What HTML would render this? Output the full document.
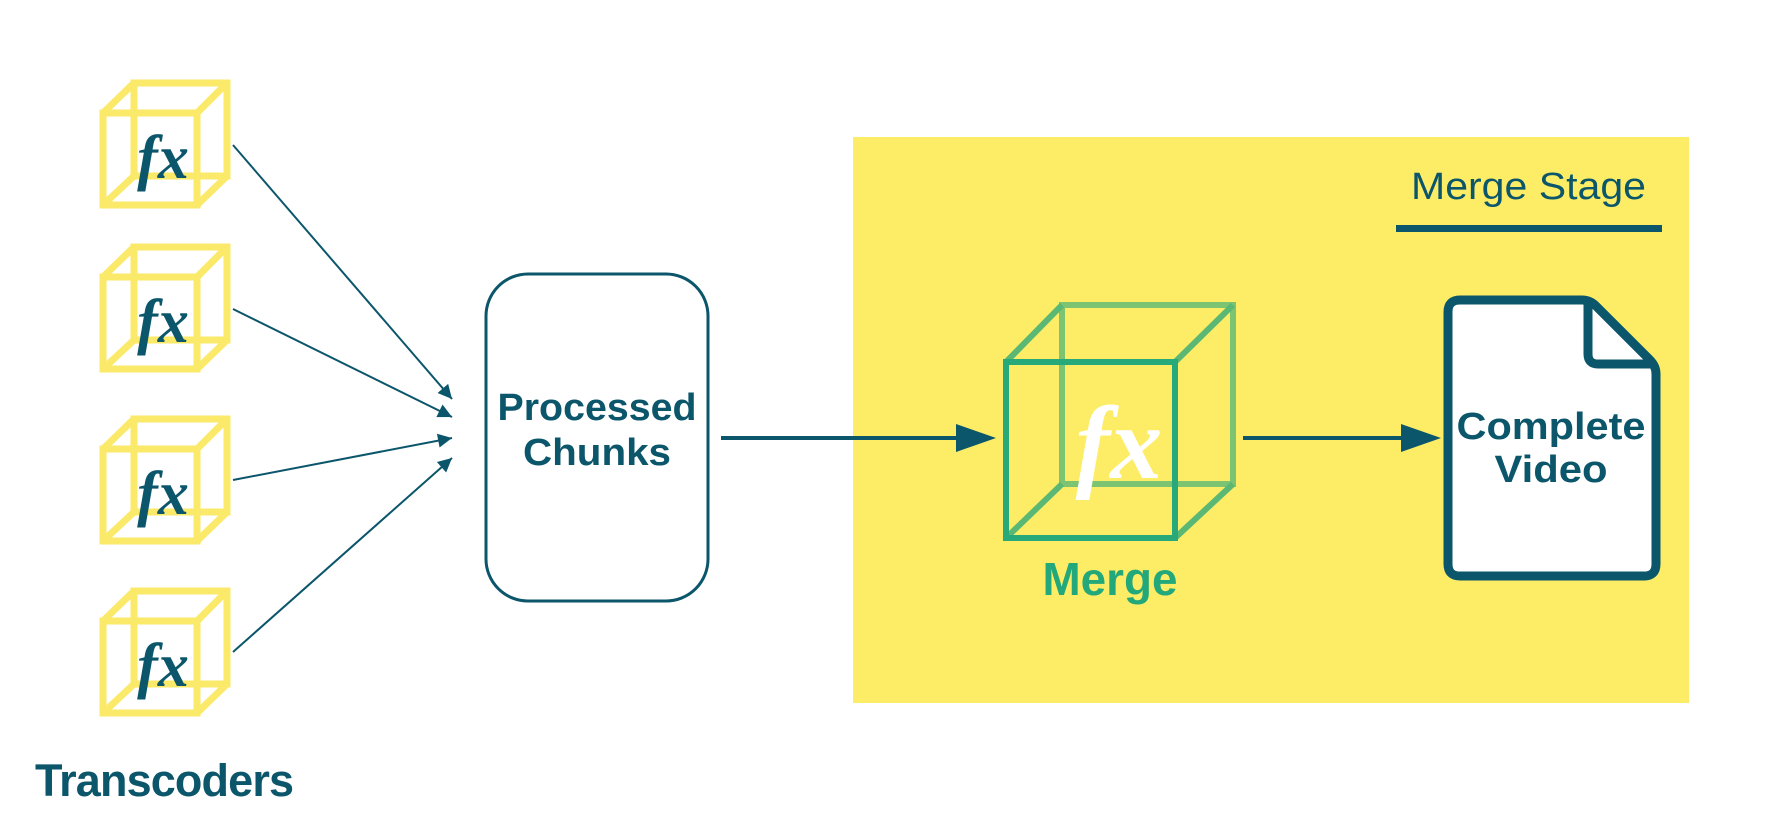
<!DOCTYPE html>
<html><head><meta charset="utf-8"><style>
html,body{margin:0;padding:0;background:#fff;}
svg{display:block;}
</style></head><body>
<svg width="1766" height="840" viewBox="0 0 1766 840" xmlns="http://www.w3.org/2000/svg">
<defs>
<marker id="ah" viewBox="0 0 10 10" refX="10" refY="5" markerWidth="16" markerHeight="14" markerUnits="userSpaceOnUse" orient="auto"><path d="M0,0 L10,5 L0,10 z" fill="#0b566b"/></marker>
<g id="cube">
  <rect x="103" y="113" width="94" height="92" fill="none" stroke="#fbe96a" stroke-width="7"/>
  <rect x="134" y="83" width="93" height="93" fill="none" stroke="#fbe96a" stroke-width="7"/>
  <line x1="103" y1="113" x2="134" y2="83" stroke="#fbe96a" stroke-width="7"/>
  <line x1="197" y1="113" x2="227" y2="83" stroke="#fbe96a" stroke-width="7"/>
  <line x1="103" y1="205" x2="134" y2="176" stroke="#fbe96a" stroke-width="7"/>
  <line x1="197" y1="205" x2="227" y2="176" stroke="#fbe96a" stroke-width="7"/>
  <text x="163" y="178" text-anchor="middle" font-family="Liberation Serif, serif" font-style="italic" font-weight="bold" font-size="62" fill="#0b566b">fx</text>
</g>
</defs>
<use href="#cube"/>
<use href="#cube" y="164"/>
<use href="#cube" y="336"/>
<use href="#cube" y="508"/>

<g stroke="#0b566b" stroke-width="2" marker-end="url(#ah)">
<line x1="233" y1="145" x2="452" y2="399"/>
<line x1="233" y1="309" x2="452" y2="417"/>
<line x1="233" y1="480" x2="452" y2="438"/>
<line x1="233" y1="652" x2="452" y2="458"/>
</g>

<rect x="486" y="274" width="222" height="327" rx="42" fill="#fff" stroke="#0b566b" stroke-width="3"/>
<text x="597" y="420" text-anchor="middle" font-family="Liberation Sans, sans-serif" font-weight="bold" font-size="38" fill="#0b566b" textLength="199" lengthAdjust="spacingAndGlyphs">Processed</text>
<text x="597" y="465" text-anchor="middle" font-family="Liberation Sans, sans-serif" font-weight="bold" font-size="38" fill="#0b566b" textLength="148" lengthAdjust="spacingAndGlyphs">Chunks</text>

<text x="35" y="796" font-family="Liberation Sans, sans-serif" font-weight="bold" font-size="45" fill="#0b566b" textLength="259">Transcoders</text>

<rect x="853" y="137" width="836" height="566" fill="#fded66"/>

<text x="1411" y="199" font-family="Liberation Sans, sans-serif" font-size="38" fill="#0b566b" textLength="235" lengthAdjust="spacingAndGlyphs">Merge Stage</text>
<rect x="1396" y="225" width="266" height="7" fill="#0b566b"/>

<line x1="721" y1="438" x2="958" y2="438" stroke="#0b566b" stroke-width="4"/>
<path d="M956,424 L996,438 L956,452 z" fill="#0b566b"/>
<line x1="1243" y1="438" x2="1403" y2="438" stroke="#0b566b" stroke-width="4"/>
<path d="M1401,424 L1441,438 L1401,452 z" fill="#0b566b"/>

<g stroke-width="6" fill="none">
  <rect x="1062" y="305" width="171" height="179" stroke="#7cc471"/>
  <line x1="1006" y1="362" x2="1062" y2="305" stroke="#5bb874"/>
  <line x1="1175" y1="362" x2="1233" y2="305" stroke="#5bb874"/>
  <line x1="1006" y1="538" x2="1062" y2="484" stroke="#5bb874"/>
  <line x1="1175" y1="538" x2="1233" y2="484" stroke="#5bb874"/>
  <rect x="1006" y="362" width="169" height="176" stroke="#27a97a"/>
</g>
<text x="1119" y="478" text-anchor="middle" font-family="Liberation Serif, serif" font-style="italic" font-weight="bold" font-size="104" fill="#fff">fx</text>
<text x="1110" y="595" text-anchor="middle" font-family="Liberation Sans, sans-serif" font-weight="bold" font-size="46" fill="#22a87a" textLength="135" lengthAdjust="spacingAndGlyphs">Merge</text>

<path d="M1460,300 L1582,300 Q1590,300 1596,306 L1650,360 Q1656,366 1656,374 L1656,564 Q1656,576 1644,576 L1460,576 Q1448,576 1448,564 L1448,312 Q1448,300 1460,300 z" fill="#fff" stroke="#0b566b" stroke-width="9" stroke-linejoin="round"/>
<path d="M1588,302 L1588,354 Q1588,364 1598,364 L1654,364" fill="none" stroke="#0b566b" stroke-width="9" stroke-linejoin="round"/>
<text x="1551" y="439" text-anchor="middle" font-family="Liberation Sans, sans-serif" font-weight="bold" font-size="38" fill="#0b566b" textLength="189" lengthAdjust="spacingAndGlyphs">Complete</text>
<text x="1551" y="482" text-anchor="middle" font-family="Liberation Sans, sans-serif" font-weight="bold" font-size="38" fill="#0b566b" textLength="113" lengthAdjust="spacingAndGlyphs">Video</text>
</svg>
</body></html>
